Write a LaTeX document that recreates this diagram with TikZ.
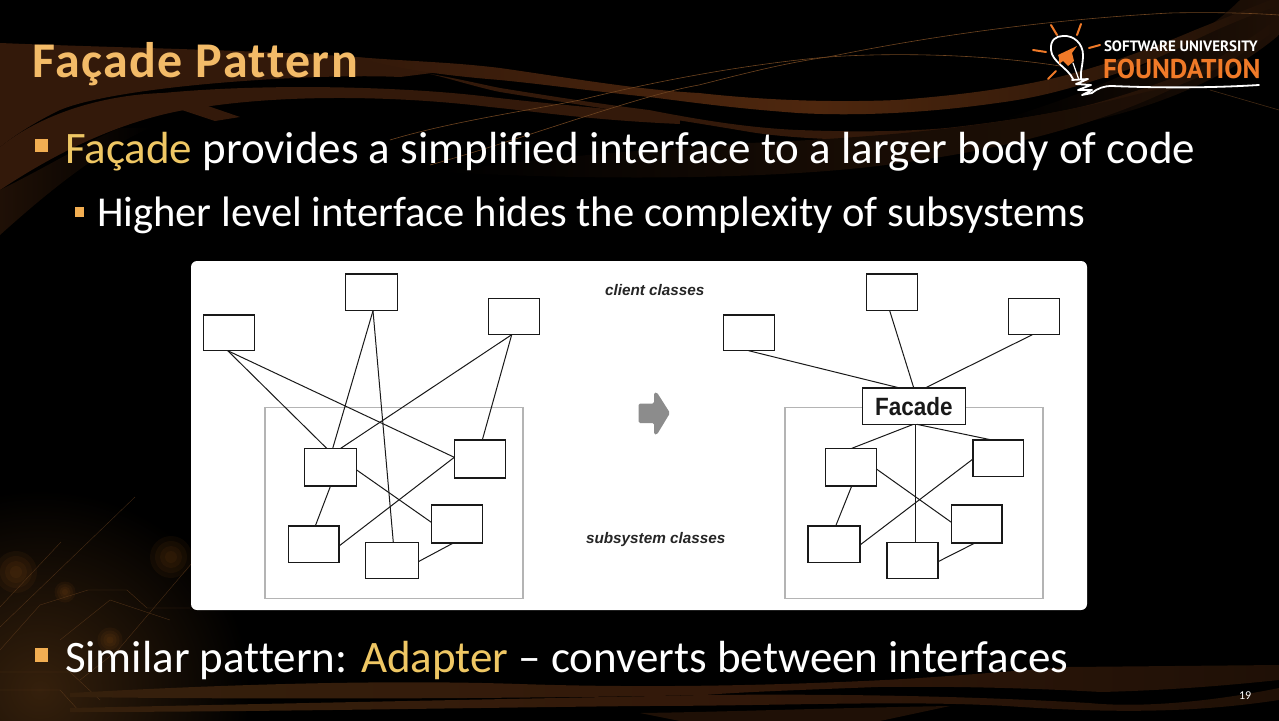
\documentclass[tikz,border=0pt]{standalone}
\usepackage{fontspec}
\setmainfont[Ligatures=NoCommon]{Carlito}
\newfontfamily\arialf{Liberation Sans}
\newfontfamily\ptf{PT Sans}
\newfontfamily\titlef[LetterSpace=3,Ligatures=NoCommon]{Carlito}
\usetikzlibrary{calc}
\definecolor{titlecol}{HTML}{F3BB68}
\definecolor{accentcol}{HTML}{EFC764}
\definecolor{bulletcol}{HTML}{F2AE52}
\definecolor{logocol}{HTML}{F07A28}
\definecolor{bandA}{HTML}{33190A}
\definecolor{bandB}{HTML}{4E270E}
\definecolor{bandC}{HTML}{1F1006}
\definecolor{glowc}{HTML}{35200C}
\definecolor{wire}{HTML}{6E4420}
\definecolor{framecol}{HTML}{B4B4B4}
\tikzset{
  lbl/.style={inner sep=0pt,outer sep=0pt,anchor=base west,text=white},
  clsbox/.style={draw=black!90,fill=white,line width=1.3pt,inner sep=0pt,outer sep=0pt},
  subframe/.style={draw=framecol,line width=1.3pt,inner sep=0pt,outer sep=0pt,minimum width=258pt,minimum height=191pt},
  assoc/.style={draw=black!90,line width=1pt},
  square/.style={fill=bulletcol},
  ray/.style={draw=logocol,line width=2pt,line cap=round},
  bulb/.style={draw=white,line width=1.8pt,line cap=round,line join=round},
  thinwire/.style={draw=wire,line width=0.6pt},
  circ/.style={draw=wire,line width=0.4pt,opacity=0.6},
  blob/.style={fill=orange!55!brown,opacity=0.05},
  capt/.style={inner sep=0pt,outer sep=0pt,anchor=base west,text=black!85}
}
\begin{document}
\begin{tikzpicture}[x=1pt,y=-1pt]
\useasboundingbox (0,0) rectangle (1279,720);
\fill[black] (-3,-3) rectangle (1282,723);
% bottom-left glow
\begin{scope}
\clip (0,470) rectangle (280,720);
\shade[inner color=glowc,outer color=black] (40,690) ellipse (210 and 200);
\end{scope}
\foreach \r in {6,11,16,21} {
  \fill[blob] (171,557) circle (\r);
  \fill[blob] (16,572) circle (\r);
  \fill[blob] (65,592) circle (\r*0.5);
  \fill[blob] (110,640) circle (\r*0.6);
}
% wide dark stripe behind the logo
\shade[left color=black,right color=bandC] (1000,120) .. controls (1100,90) and (1190,50) .. (1240,0) -- (1279,0) -- (1279,35) .. controls (1220,85) and (1120,125) .. (1000,135) -- cycle;
% top bands
\shade[left color=bandA,right color=bandA] (0,43) .. controls (120,48) and (260,50) .. (355,57) .. controls (390,60) and (420,66) .. (440,72) -- (400,77) .. controls (320,73) and (120,85) .. (60,110) .. controls (35,122) and (15,135) .. (0,147) -- cycle;
\shade[left color=bandA,right color=bandA] (0,147) .. controls (40,115) and (100,95) .. (163,93) .. controls (280,82) and (420,88) .. (490,97) .. controls (540,103) and (600,108) .. (680,116) -- (680,124) .. controls (590,120) and (540,112) .. (490,107) .. controls (400,96) and (290,94) .. (204,107) .. controls (130,116) and (60,150) .. (0,190) -- cycle;
\fill[bandA] (143,97) -- (170,93) -- (240,117) -- (215,121) -- cycle;
\shade[left color=bandC,right color=black] (0,190) .. controls (60,160) and (90,140) .. (120,128) -- (150,128) .. controls (100,150) and (50,190) .. (0,235) -- cycle;
% band 1
\shade[left color=bandA,right color=bandC,middle color=bandB] (355,57) .. controls (420,62) and (450,62) .. (500,68) .. controls (570,78) and (640,90) .. (699,93) .. controls (780,102) and (850,102) .. (897,100) .. controls (950,96) and (1000,90) .. (1046,80) .. controls (1100,68) and (1160,45) .. (1195,30) .. controls (1220,20) and (1250,8) .. (1270,0) -- (1279,0) -- (1279,6) .. controls (1250,15) and (1220,28) .. (1195,40) .. controls (1160,58) and (1130,70) .. (1096,80) .. controls (1050,95) and (1020,100) .. (997,103) .. controls (920,114) and (850,116) .. (798,113) .. controls (730,108) and (690,102) .. (649,97) .. controls (600,92) and (550,85) .. (500,80) .. controls (450,76) and (400,70) .. (355,57) -- cycle;
% band 2
\shade[left color=bandA,right color=bandC,middle color=bandA] (430,74) .. controls (455,78) and (480,84) .. (500,88) .. controls (550,96) and (600,104) .. (649,110) .. controls (700,120) and (750,128) .. (798,130) .. controls (850,132) and (900,132) .. (947,128) .. controls (1000,122) and (1060,113) .. (1096,103) .. controls (1150,88) and (1190,72) .. (1220,57) .. controls (1240,45) and (1260,32) .. (1279,17) -- (1279,28) .. controls (1255,45) and (1235,60) .. (1210,72) .. controls (1170,90) and (1130,105) .. (1096,115) .. controls (1040,130) and (990,136) .. (947,138) .. controls (880,142) and (800,140) .. (750,132) .. controls (680,120) and (580,105) .. (500,92) .. controls (480,88) and (455,80) .. (430,74) -- cycle;
% wide faint band
\shade[left color=black,right color=bandC,middle color=bandC!70!black] (440,172) .. controls (560,155) and (650,150) .. (750,143) .. controls (860,138) and (1000,130) .. (1146,92) -- (1180,85) .. controls (1100,125) and (1000,150) .. (900,163) .. controls (800,178) and (620,182) .. (440,172) -- cycle;
% thin lines
\draw[thinwire] (390,140) .. controls (450,122) and (520,112) .. (580,100) .. controls (680,75) and (770,62) .. (828,57) .. controls (900,52) and (990,55) .. (1060,66);
\draw[thinwire] (430,165) .. controls (520,140) and (640,95) .. (699,85) .. controls (750,72) and (790,62) .. (828,57) .. controls (920,38) and (1040,20) .. (1170,13) .. controls (1210,12) and (1250,13) .. (1279,15);
\draw[thinwire,opacity=0.6] (1210,90) -- (1279,110);
% circuit lines lower-left
\draw[circ] (135,497) -- (0,627);
\draw[circ] (61,542) -- (0,607);
\draw[circ] (192,563) -- (118,650) -- (80,680);
\draw[circ] (0,650) -- (40,605) -- (88,590) -- (127,590) -- (147,608) -- (190,608);
\draw[circ] (60,640) -- (110,600) -- (170,620);
\draw[circ] (0,672) -- (70,672) -- (100,700);
\draw[circ] (0,690) -- (60,690) -- (80,712);
% bottom bands
\shade[left color=glowc,right color=bandC,middle color=bandA] (70,693) .. controls (250,683) and (400,680) .. (520,684) .. controls (640,688) and (760,686) .. (885,680) .. controls (960,676) and (1020,670) .. (1069,667) -- (1279,665) -- (1279,680) .. controls (1240,684) and (1180,690) .. (1101,692) .. controls (1030,688) and (950,686) .. (877,687) .. controls (800,690) and (740,692) .. (705,695) .. controls (560,698) and (300,700) .. (70,697) -- cycle;
\shade[left color=glowc,right color=bandC,middle color=bandA] (70,708) .. controls (300,703) and (560,698) .. (705,695) .. controls (820,694) and (950,695) .. (1089,703) .. controls (1140,708) and (1210,702) .. (1279,688) -- (1279,700) .. controls (1200,712) and (1120,714) .. (1007,706) .. controls (900,700) and (780,706) .. (640,706) .. controls (450,708) and (250,712) .. (70,712) -- cycle;
\fill[bandC] (640,713) .. controls (720,712) and (830,708) .. (950,706) -- (880,721) -- (680,721) -- cycle;
% card
\fill[white,rounded corners=6pt] (191,261) rectangle (1087,610);
% left
\node[subframe] (framel) at (394,502.8) {};
\node[subframe] (framer) at (913.85,502.8) {};
\node[clsbox,minimum width=51pt,minimum height=35.7pt] (A) at (228.8,332.9) {};
\node[clsbox,minimum width=52.4pt,minimum height=36.7pt] (B) at (371.5,292.4) {};
\node[clsbox,minimum width=51pt,minimum height=36.4pt] (C) at (514.2,316.5) {};
\node[clsbox,minimum width=52.4pt,minimum height=37.7pt] (S1) at (330.5,467.2) {};
\node[clsbox,minimum width=51pt,minimum height=38pt] (S2) at (479.8,459) {};
\node[clsbox,minimum width=50.7pt,minimum height=36.7pt] (S3) at (313.7,544.3) {};
\node[clsbox,minimum width=52.6pt,minimum height=36.4pt] (S4) at (392,560.5) {};
\node[clsbox,minimum width=51pt,minimum height=38pt] (S5) at (456.8,524) {};
\draw[assoc] ([xshift=-1pt]A.south) -- ([xshift=-3.8pt]S1.north);
\draw[assoc] ([xshift=-1pt]A.south) -- ([yshift=1.7pt]S2.west);
\draw[assoc] ([xshift=1.5pt]B.south) -- ([xshift=2.2pt]S1.north);
\draw[assoc] ([xshift=1.5pt]B.south) -- ([xshift=1.3pt]S4.north);
\draw[assoc] ([xshift=-2.5pt]C.south) -- ([xshift=10.2pt]S1.north);
\draw[assoc] ([xshift=-2.5pt]C.south) -- ([xshift=2.5pt]S2.north);
\draw[assoc] ([yshift=-2.8pt]S1.east) -- ([yshift=1.7pt]S5.west);
\draw[assoc] (S1.south) -- ([xshift=1.6pt]S3.north);
\draw[assoc] ([yshift=1.7pt]S2.west) -- ([yshift=-1.7pt]S3.east);
\draw[assoc] ([xshift=-3.5pt]S5.south) -- ([yshift=-1.2pt]S4.east);
% right
\node[clsbox,minimum width=51pt,minimum height=35.7pt] (a) at (748.8,332.9) {};
\node[clsbox,minimum width=50.6pt,minimum height=36.7pt] (b) at (892,292.4) {};
\node[clsbox,minimum width=51pt,minimum height=36.4pt] (c) at (1033.8,316.5) {};
\node[clsbox,minimum width=103pt,minimum height=36.3pt,font=\arialf\bfseries\fontsize{25}{25}\selectfont,text=black!90] (F) at (913.8,406.2) {\scalebox{0.9}[1]{Facade}};
\node[clsbox,minimum width=51pt,minimum height=37.7pt] (s1) at (851.2,467.2) {};
\node[clsbox,minimum width=50.7pt,minimum height=36.7pt] (s2) at (998.3,458.3) {};
\node[clsbox,minimum width=52pt,minimum height=36.7pt] (s3) at (834,544.3) {};
\node[clsbox,minimum width=51pt,minimum height=36.4pt] (s4) at (912.5,560.5) {};
\node[clsbox,minimum width=50.7pt,minimum height=38pt] (s5) at (976.7,524) {};
\draw[assoc] (a.south) -- ([xshift=-13.8pt]F.north);
\draw[assoc] ([xshift=-2.3pt]b.south) -- (F.north);
\draw[assoc] ([xshift=-1.5pt]c.south) -- ([xshift=11.2pt]F.north);
\draw[assoc] ([xshift=-0.5pt]F.south) -- ([xshift=0.5pt]s1.north);
\draw[assoc] ([xshift=1.2pt]F.south) -- ([xshift=2.5pt]s4.north);
\draw[assoc] ([xshift=3pt]F.south) -- ([xshift=-6.6pt]s2.north);
\draw[assoc] ([yshift=-2pt]s1.east) -- ([yshift=1.7pt]s5.west);
\draw[assoc] ([xshift=0.5pt]s1.south) -- ([xshift=1.7pt]s3.north);
\draw[assoc] ([yshift=-0.7pt]s2.west) -- ([yshift=-0.7pt]s3.east);
\draw[assoc] ([xshift=-1.7pt]s5.south) -- ([yshift=-1.2pt]s4.east);
% middle
\node[capt,font=\arialf\bfseries\itshape\fontsize{15.3}{15.3}\selectfont] (clientcap) at (605,295) {client classes};
\node[capt,font=\arialf\bfseries\itshape\fontsize{15.3}{15.3}\selectfont] (subcap) at (586,543) {subsystem classes};
\fill[black!45,rounded corners=1.5pt] (638.5,403.5) -- (654,403.5) -- (654,392.5) -- (657,392.5) -- (670,413) -- (657,434.5) -- (654,434.5) -- (654,423) -- (638.5,423) -- cycle;
% texts
\node[lbl,text=titlecol,font=\titlef\bfseries\fontsize{50}{50}\selectfont] (title) at (32,77) {Façade Pattern};
\fill[square] (35,139) rectangle (48,152);
\node[lbl,font=\fontsize{45}{45}\selectfont] (l1) at (65,163) {\textcolor{accentcol}{Façade} provides a simplified interface to a larger body of code};
\fill[square] (75,207) rectangle (84,217);
\node[lbl,font=\fontsize{42.6}{42.6}\selectfont] (l2) at (97,226) {Higher level interface hides the complexity of subsystems};
\fill[square] (35,648) rectangle (48,662);
\node[lbl,font=\fontsize{45}{45}\selectfont] (l3) at (65,672) {Similar pattern: \textcolor{accentcol}{Adapter} – converts between interfaces};
\node[lbl,font=\fontsize{12}{12}\selectfont] (pg) at (1239,699) {19};
% logo
\draw[ray] (1033,50) -- (1046,52);
\draw[ray] (1051,25) -- (1057,35);
\draw[ray] (1081,24) -- (1077,35);
\draw[ray] (1089,48) -- (1100,45);
\draw[ray] (1048,79) -- (1056,71);
\draw[bulb] (1073,79) .. controls (1068,68) and (1052,62) .. (1051,50) .. controls (1050,40) and (1056,36) .. (1063,36) .. controls (1074,35) and (1083,44) .. (1083,55) .. controls (1083,65) and (1080,72) .. (1081,79);
\draw[bulb,line width=1.2pt] (1073,63) -- (1079,80);
\fill[logocol] (1058,55) -- (1077,46) -- (1072,53) -- (1074,61) -- (1068,66) -- (1063,61) -- (1059,64) -- (1059,58) -- cycle;
\draw[bulb] (1072,80) -- (1088,79) -- (1076,84) -- (1091,85) -- (1078,90) -- (1092,90) -- (1082,95) -- (1092,93) .. controls (1098,88) and (1104,86) .. (1112,86) .. controls (1160,88) and (1210,88) .. (1259,85);
\node[lbl,font=\ptf\bfseries\fontsize{15}{15}\selectfont] (logoa) at (1104,51) {SOFTWARE UNIVERSITY};
\node[lbl,text=logocol,font=\ptf\bfseries\fontsize{27.2}{27.2}\selectfont] (logob) at (1103,78) {FOUNDATION};
\end{tikzpicture}
\end{document}
